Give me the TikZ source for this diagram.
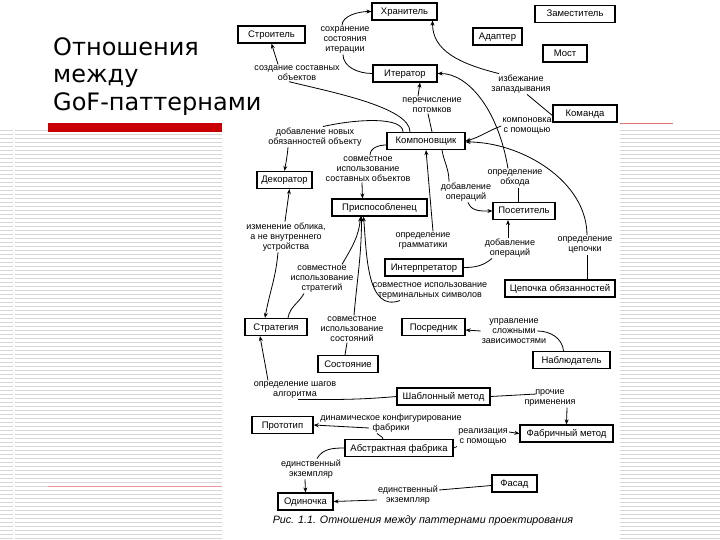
\documentclass[tikz,border=0pt]{standalone}
\usepackage{fontspec}
\setmainfont{Liberation Sans}
\newfontfamily\titlefont{DejaVu Sans}
\usepackage{tikz}
\usetikzlibrary{arrows.meta}
\definecolor{barred}{RGB}{200,0,0}
\definecolor{stripegray}{RGB}{214,214,214}

\begin{document}
\begin{tikzpicture}[x=1pt, y=-1pt,
  patbox/.style={draw, line width=1.2pt, minimum height=17pt, inner sep=0pt,
    text height=6.6pt, text depth=.6pt, font=\fontsize{9.5}{10}\selectfont},
  rel/.style={align=center, inner sep=1pt, font=\fontsize{9}{10}\selectfont},
  link/.style={line width=.8pt},
  linkarr/.style={link, -{Stealth[length=5pt,width=4pt]}},
  stripe/.style={stripegray, line width=.6pt}]
\useasboundingbox (0,0) rectangle (720,540);

\foreach \y in {130,134,...,538}
  \draw[stripe] (0,\y) -- (13,\y) (15,\y) -- (222,\y) (620,\y) -- (720,\y);
\fill[barred] (48,123) rectangle (222,132);
\draw[barred!55, line width=.6pt] (620,123) -- (673,123);
\draw[barred!40, line width=.6pt] (48,486) -- (222,486);

\node[anchor=north west, inner sep=0pt, align=left,
  font=\titlefont\fontsize{24}{27.5}\selectfont] (title) at (53,37)
  {Отношения\\между\\GoF-паттернами};

\node[patbox, minimum width=67pt] (stroit) at (271.5,34.5) {Строитель};
\node[patbox, minimum width=65pt] (hran) at (404.5,11.5) {Хранитель};
\node[patbox, minimum width=64pt] (iter) at (405,73.5) {Итератор};
\node[patbox, minimum width=80pt] (zam) at (575,14) {Заместитель};
\node[patbox, minimum width=49pt] (adapt) at (497.5,36.5) {Адаптер};
\node[patbox, minimum width=44pt] (most) at (565,53.5) {Мост};
\node[patbox, minimum width=64pt] (komanda) at (585,113.5) {Команда};
\node[patbox, minimum width=78pt] (komp) at (426,141) {Компоновщик};
\node[patbox, minimum width=55pt] (dekor) at (284.5,180) {Декоратор};
\node[patbox, minimum width=95pt] (prisp) at (379.5,207.5) {Приспособленец};
\node[patbox, minimum width=62pt] (posetit) at (524,211) {Посетитель};
\node[patbox, minimum width=78pt] (interp) at (424,267.5) {Интерпретатор};
\node[patbox, minimum width=110pt] (cepochka) at (560,288.5) {Цепочка обязанностей};
\node[patbox, minimum width=62pt] (strat) at (276,327) {Стратегия};
\node[patbox, minimum width=63pt] (posred) at (433.5,327) {Посредник};
\node[patbox, minimum width=60pt] (sostoyan) at (348,364) {Состояние};
\node[patbox, minimum width=77pt] (nabl) at (571.5,360) {Наблюдатель};
\node[patbox, minimum width=93pt] (shabl) at (443.5,396.5) {Шаблонный метод};
\node[patbox, minimum width=61pt] (prototip) at (282.5,425) {Прототип};
\node[patbox, minimum width=108pt] (abstr) at (399,448) {Абстрактная фабрика};
\node[patbox, minimum width=93pt] (fabr) at (566.5,433.5) {Фабричный метод};
\node[patbox, minimum width=45pt] (fasad) at (514.5,483.5) {Фасад};
\node[patbox, minimum width=55pt] (odin) at (305.5,501.5) {Одиночка};

\node[rel] (lSohr) at (345,40) {сохранение\\состояния\\итерации};
\node[rel] (lSozd) at (297,73) {создание составных\\объектов};
\node[rel] (lPerech) at (432,105) {перечисление\\потомков};
\node[rel] (lIzbezh) at (521,84) {избежание\\запаздывания};
\node[rel] (lKompon) at (527,126) {компоновка\\с помощью};
\node[rel] (lDobNov) at (315,137) {добавление новых\\обязанностей объекту};
\node[rel] (lSovmSost) at (368,169) {совместное\\использование\\составных объектов};
\node[rel] (lObhod) at (515,178) {определение\\обхода};
\node[rel] (lDobOp1) at (466,192) {добавление\\операций};
\node[rel] (lIzmen) at (286,237) {изменение облика,\\а не внутреннего\\устройства};
\node[rel] (lGramm) at (423,241) {определение\\грамматики};
\node[rel] (lDobOp2) at (510,248) {добавление\\операций};
\node[rel] (lCep) at (585,245) {определение\\цепочки};
\node[rel] (lStrat) at (322,279) {совместное\\использование\\стратегий};
\node[rel] (lTerm) at (430,291) {совместное использование\\терминальных символов};
\node[rel] (lSostoyan) at (352,329) {совместное\\использование\\состояний};
\node[rel] (lUpr) at (514,331) {управление\\сложными\\зависимостями};
\node[rel] (lShag) at (295,390) {определение шагов\\алгоритма};
\node[rel] (lProch) at (550,398) {прочие\\применения};
\node[rel] (lDinam) at (391,423) {динамическое конфигурирование\\фабрики};
\node[rel] (lReal) at (483,437) {реализация\\с помощью};
\node[rel] (lEd1) at (311,469) {единственный\\экземпляр};
\node[rel] (lEd2) at (408,495) {единственный\\экземпляр};

\node[font=\itshape\fontsize{10.7}{12}\selectfont] (caption) at (423,521)
  {Рис. 1.1. Отношения между паттернами проектирования};

\draw[link] (iter.west) .. controls +(-15,0) and +(0,12) .. ([xshift=-2pt]lSohr.south);
\draw[linkarr] ([xshift=-3pt]lSohr.north) .. controls +(0,-10) and +(-12,0) .. (hran.west);
\draw[link] ([xshift=-16pt]komp.north) .. controls +(0,-25) and +(40,10) .. ([xshift=-8pt]lSozd.south);
\draw[linkarr] ([xshift=-19pt]lSozd.north) -- (stroit.south);
\draw[link] ([xshift=6pt]komp.north) -- ([xshift=-4pt]lPerech.south);
\draw[linkarr] ([xshift=-14pt]lPerech.north) -- ([xshift=15pt]iter.south);
\draw[link] ([yshift=-2pt]komanda.west) -- ([xshift=6pt]lIzbezh.south);
\draw[linkarr] ([xshift=-22pt]lIzbezh.north) .. controls +(-40,-10) and +(0,30) .. ([xshift=28pt]hran.south);
\draw[linkarr] (lKompon.west) to[out=200,in=15] (komp.east);
\draw[link] ([xshift=-6pt]posetit.north) -- ([xshift=3pt]lObhod.south);
\draw[linkarr] ([xshift=-7pt]lObhod.north) .. controls +(-10,-60) and +(30,0) .. (iter.east);
\draw[link] ([xshift=-23pt]komp.north) .. controls +(0,-15) and +(35,-8) .. ([xshift=8pt]lDobNov.north);
\draw[linkarr] ([xshift=-27pt]lDobNov.south) to[out=-95,in=80] (dekor.north);
\draw[link] ([yshift=-4pt]komp.west) to[out=180,in=90] ([xshift=2pt]lSovmSost.north);
\draw[linkarr] ([xshift=-6pt]lSovmSost.south) -- ([xshift=-17pt]prisp.north);
\draw[linkarr] ([xshift=-1pt]lIzmen.north) -- ([xshift=5pt]dekor.south);
\draw[linkarr] ([xshift=-8pt]lIzmen.south) to[out=-95,in=80] ([xshift=-11pt]strat.north);
\draw[link] ([xshift=12pt]strat.north) to[out=80,in=-120] ([xshift=-18pt]lStrat.south);
\draw[linkarr] ([xshift=20pt]lStrat.north) to[out=60,in=-95] ([xshift=-19pt]prisp.south);
\draw[link] ([xshift=-3pt]sostoyan.north) -- ([xshift=-5pt]lSostoyan.south);
\draw[linkarr] ([xshift=2pt]lSostoyan.north) to[out=85,in=-90] ([xshift=-18pt]prisp.south);
\draw[linkarr] ([xshift=-30pt]lTerm.south) to[out=200,in=-85] ([xshift=-16pt]prisp.south);
\draw[linkarr] ([xshift=10pt]lGramm.north) -- (komp.south);
\draw[link] ([xshift=16pt]komp.south) to[out=-80,in=90] ([xshift=-17pt]lDobOp1.north);
\draw[linkarr] ([xshift=2pt]lDobOp1.south) to[out=-70,in=180] (posetit.west);
\draw[linkarr] ([xshift=-2pt]lDobOp2.north) -- ([xshift=-16pt]posetit.south);
\draw[link] (interp.east) to[out=0,in=-140] ([xshift=-18pt]lDobOp2.south);
\draw[link] ([xshift=27pt]cepochka.north) -- ([xshift=2pt]lCep.south);
\draw[linkarr] ([xshift=2pt]lCep.north) .. controls +(0,-55) and +(55,0) .. ([yshift=-1pt]komp.east);
\draw[link] ([xshift=-8pt]nabl.north) to[out=95,in=0] ([xshift=-10pt]lUpr.east);
\draw[linkarr] (lUpr.west) -- ([yshift=-3pt]posred.east);
\draw[link] (shabl.west) to[out=185,in=0] ([xshift=3pt]lShag.south);
\draw[linkarr] ([xshift=-27pt]lShag.north) to[out=100,in=-80] ([xshift=-16pt]strat.south);
\draw[link] (shabl.east) -- ([xshift=13pt,yshift=4pt]lProch.west);
\draw[linkarr] ([xshift=17pt]lProch.south) -- (fabr.north);
\draw[linkarr] ([xshift=-22pt,yshift=-5pt]lDinam.center) -- (prototip.east);
\draw[link] ([xshift=-16pt]abstr.north) to[out=100,in=-60] ([xshift=-14pt]lDinam.south);
\draw[link] (abstr.east) -- (lReal.south west);
\draw[linkarr] ([yshift=5pt]lReal.east) -- (fabr.west);
\draw[link] (abstr.west) to[out=180,in=60] ([xshift=6pt]lEd1.north);
\draw[linkarr] ([xshift=-6pt]lEd1.south) -- (odin.north);
\draw[link] ([yshift=-2pt]fasad.west) -- ([yshift=5pt]lEd2.east);
\draw[linkarr] ([yshift=-5pt]lEd2.west) -- (odin.east);
\end{tikzpicture}
\end{document}
